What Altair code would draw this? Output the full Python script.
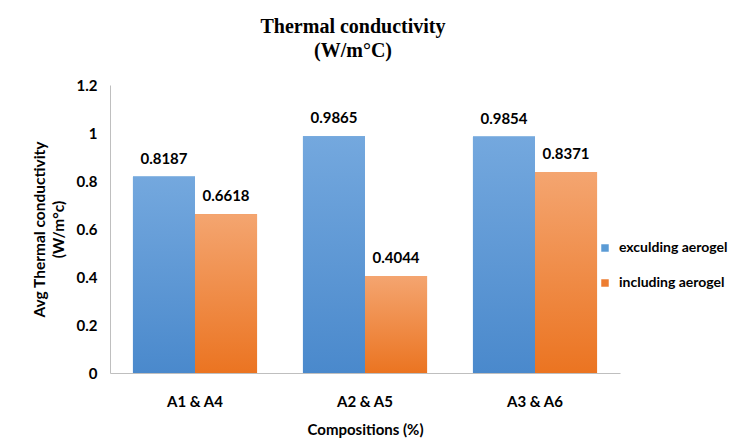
import altair as alt
import pandas as pd

categories = ["A1 & A4", "A2 & A5", "A3 & A6"]
series = ["exculding aerogel", "including aerogel"]
excluding = [0.8187, 0.9865, 0.9854]
including = [0.6618, 0.4044, 0.8371]

rows = []
for c, e, i in zip(categories, excluding, including):
    rows.append({"comp": c, "series": series[0], "value": e})
    rows.append({"comp": c, "series": series[1], "value": i})
df = pd.DataFrame(rows)

FONT = "Lato"

x_enc = alt.X("comp:N", sort=categories,
              scale=alt.Scale(paddingInner=0.27, paddingOuter=0.135),
              axis=alt.Axis(title="Compositions (%)", labelAngle=0, ticks=False,
                            labelPadding=21, titlePadding=13,
                            domainColor="#bfbfbf"))
xoff = alt.XOffset("series:N", sort=series)
y_enc = alt.Y("value:Q", scale=alt.Scale(domain=[0, 1.2]),
              axis=alt.Axis(title=["Avg Thermal conductivity", "(W/m°c)"],
                            values=[0, 0.2, 0.4, 0.6, 0.8, 1.0, 1.2],
                            format=".1~f", grid=False, ticks=False,
                            labelPadding=13, titlePadding=10,
                            titleFontSize=15.5, titleLineHeight=19,
                            domainColor="#bfbfbf"))

base = alt.Chart(df)

legend_bars = base.mark_bar().encode(
    x=x_enc, xOffset=xoff, y=y_enc,
    color=alt.Color("series:N", sort=series,
                    scale=alt.Scale(domain=series, range=["#5b9bd5", "#ed7d31"]),
                    legend=alt.Legend(title=None, orient="none", legendX=488, legendY=156,
                                      symbolType="square", symbolSize=56,
                                      symbolStrokeWidth=0, labelOffset=7,
                                      rowPadding=21, padding=0,
                                      labelFont=FONT, labelFontSize=14,
                                      labelFontWeight="bold", labelColor="#000000"))
)

blue_grad = alt.Gradient(gradient="linear",
                         stops=[alt.GradientStop(color="#74a8de", offset=0),
                                alt.GradientStop(color="#4a89cc", offset=1)],
                         x1=0, x2=0, y1=0, y2=1)
orange_grad = alt.Gradient(gradient="linear",
                           stops=[alt.GradientStop(color="#f4a570", offset=0),
                                  alt.GradientStop(color="#eb7421", offset=1)],
                           x1=0, x2=0, y1=0, y2=1)

blue_bars = base.transform_filter(alt.datum.series == series[0]).mark_bar(
    fill=blue_grad).encode(x=x_enc, xOffset=xoff, y=y_enc)
orange_bars = base.transform_filter(alt.datum.series == series[1]).mark_bar(
    fill=orange_grad).encode(x=x_enc, xOffset=xoff, y=y_enc)

labels = base.mark_text(font=FONT, fontSize=15, fontWeight="bold", color="#000000",
                        baseline="alphabetic", dy=-13).encode(
    x=x_enc, xOffset=xoff, y=y_enc, text=alt.Text("value:Q", format=".4f"))

chart = alt.layer(legend_bars, blue_bars, orange_bars, labels).properties(
    width=510, height=288,
    autosize=alt.AutoSizeParams(type="none"),
    padding={"left": 102, "top": 77, "right": 114, "bottom": 66},
    title=alt.TitleParams(text=["Thermal conductivity", "(W/m°C)"],
                          font="Liberation Serif", fontSize=20, fontWeight="bold",
                          color="#000000", anchor="middle", dx=-12, offset=17,
                          lineHeight=24),
).configure_view(stroke=None).configure_axis(
    labelFont=FONT, titleFont=FONT, labelFontSize=15, titleFontSize=15,
    labelFontWeight="bold", titleFontWeight="bold",
    labelColor="#000000", titleColor="#000000"
)

chart.save("out.html", embed_options={"renderer": "svg", "actions": False})
